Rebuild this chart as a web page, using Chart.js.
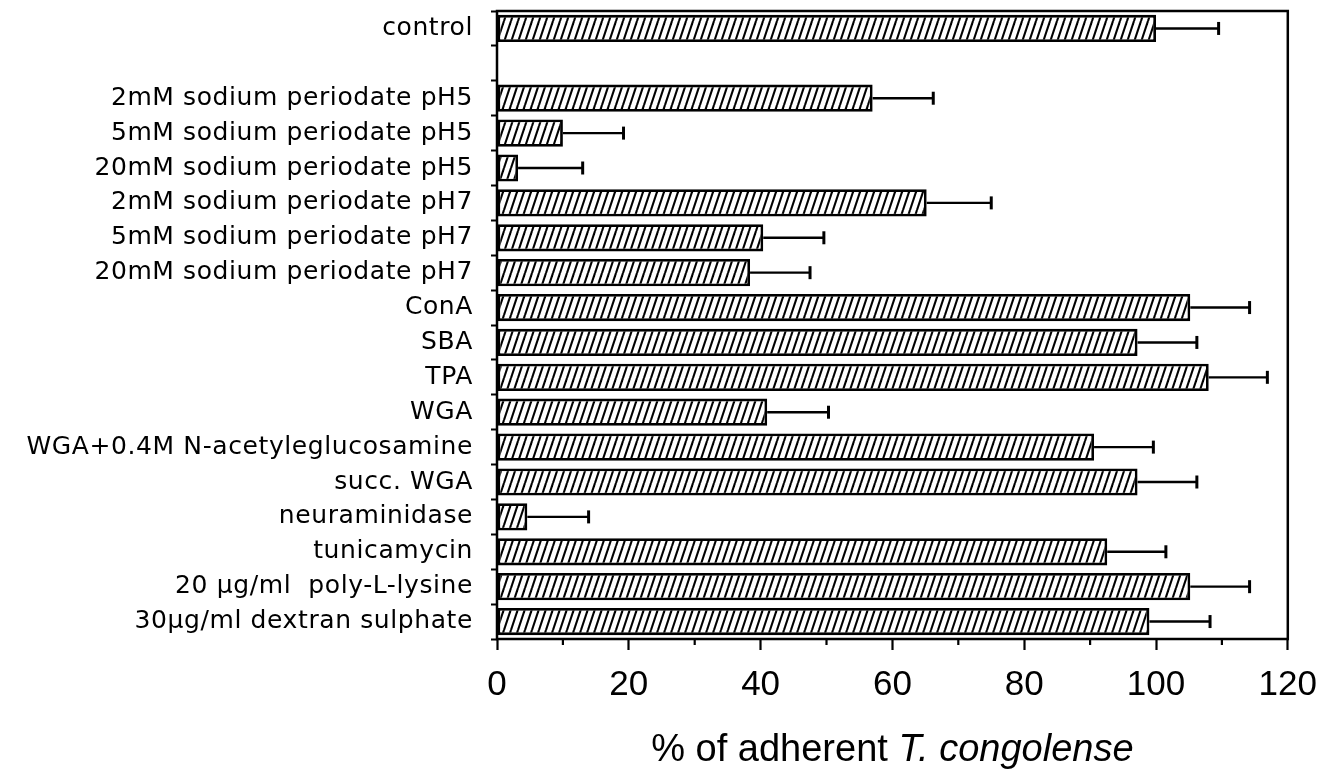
<!DOCTYPE html>
<html>
<head>
<meta charset="utf-8">
<script src="https://cdn.jsdelivr.net/npm/chart.js@4.4.1/dist/chart.umd.min.js"></script>
<style>
  html, body { margin: 0; padding: 0; background: #fff; }
  #chart { display: block; }
</style>
</head>
<body>
<canvas id="chart" width="1331" height="772"></canvas>
<script>
// Treatments, top to bottom (the empty one is the gap under "control")
const treatments = [
    'control',
    '',
    '2mM sodium periodate pH5',
    '5mM sodium periodate pH5',
    '20mM sodium periodate pH5',
    '2mM sodium periodate pH7',
    '5mM sodium periodate pH7',
    '20mM sodium periodate pH7',
    'ConA',
    'SBA',
    'TPA',
    'WGA',
    'WGA+0.4M N-acetyleglucosamine',
    'succ. WGA',
    'neuraminidase',
    'tunicamycin',
    '20 µg/ml  poly-L-lysine',
    '30µg/ml dextran sulphate'
];

// % of adherent T. congolense and the error (one side)
const adherent = [100, null, 57, 10, 3.2, 65.2, 40.4, 38.4, 105.2, 97.2, 108, 41, 90.6, 97.2, 4.6, 92.6, 105.2, 99];
const errors = [9.5, null, 9.2, 9.2, 9.8, 9.8, 9.2, 9.1, 9, 9, 8.9, 9.3, 9, 9, 9.3, 8.9, 9, 9.2];

const xMajorTicks = [0, 20, 40, 60, 80, 100, 120];
const xMinorTicks = [10, 30, 50, 70, 90, 110];

const xTitlePlain = '% of adherent ';
const xTitleItalic = 'T. congolense';

const canvas = document.getElementById('chart');
const ctx = canvas.getContext('2d');

// "////" hatching for the bars
function makeHatch() {
    const tile = document.createElement('canvas');
    tile.width = 7;
    tile.height = 21;
    const g = tile.getContext('2d');
    g.fillStyle = '#fff';
    g.fillRect(0, 0, 7, 21);
    g.strokeStyle = '#000';
    g.lineWidth = 2.1;
    for (const dx of [-7, 0, 7]) {
        g.beginPath();
        g.moveTo(dx, 21);
        g.lineTo(dx + 7, 0);
        g.stroke();
    }
    return ctx.createPattern(tile, 'repeat');
}

const extras = {
    id: 'extras',
    beforeDraw(chart) {
        // a little extra spacing for the treatment names only
        chart.ctx.letterSpacing = '0.6px';
    },
    beforeDatasetsDraw(chart) {
        chart.ctx.letterSpacing = '0px';
    },
    afterDatasetsDraw(chart) {
        const { ctx, chartArea: a, scales: { x } } = chart;
        const meta = chart.getDatasetMeta(0);
        ctx.save();
        ctx.strokeStyle = '#000';

        // error bars
        meta.data.forEach((bar, i) => {
            if (adherent[i] == null) return;
            const x1 = x.getPixelForValue(adherent[i] + errors[i]);
            ctx.lineWidth = 2.4;
            ctx.beginPath();
            ctx.moveTo(bar.x, bar.y);
            ctx.lineTo(x1, bar.y);
            ctx.stroke();
            ctx.lineWidth = 3;
            ctx.beginPath();
            ctx.moveTo(x1, bar.y - 6.5);
            ctx.lineTo(x1, bar.y + 6.5);
            ctx.stroke();
        });

        // short ticks between the labelled ones
        ctx.lineWidth = 2.2;
        xMinorTicks.forEach(v => {
            const px = x.getPixelForValue(v);
            ctx.beginPath();
            ctx.moveTo(px, a.bottom);
            ctx.lineTo(px, a.bottom + 6);
            ctx.stroke();
        });

        // box round the plot
        ctx.lineWidth = 2.5;
        ctx.strokeRect(a.left, a.top, a.right - a.left, a.bottom - a.top);
        ctx.restore();
    },
    afterDraw(chart) {
        const { ctx, chartArea: a } = chart;
        ctx.save();
        ctx.fillStyle = '#000';
        ctx.textBaseline = 'alphabetic';
        ctx.textAlign = 'left';
        ctx.font = '38px "Liberation Sans"';
        const w1 = ctx.measureText(xTitlePlain).width;
        ctx.font = 'italic 38px "Liberation Sans"';
        const w2 = ctx.measureText(xTitleItalic).width;
        const startX = (a.left + a.right) / 2 - (w1 + w2) / 2;
        ctx.font = '38px "Liberation Sans"';
        ctx.fillText(xTitlePlain, startX, 761);
        ctx.font = 'italic 38px "Liberation Sans"';
        ctx.fillText(xTitleItalic, startX + w1, 761);
        ctx.restore();
    }
};

new Chart(ctx, {
    type: 'bar',
    data: {
        labels: treatments,
        datasets: [{
            data: adherent,
            backgroundColor: makeHatch(),
            borderColor: '#000',
            borderWidth: 2.8,
            borderSkipped: false,
            barPercentage: 0.78,
            categoryPercentage: 1.0
        }]
    },
    options: {
        indexAxis: 'y',
        responsive: false,
        devicePixelRatio: 1,
        animation: false,
        layout: {
            padding: { top: 11, right: 43, bottom: 53, left: 0 }
        },
        scales: {
            x: {
                min: 0,
                max: 120,
                border: { display: false },
                grid: {
                    drawOnChartArea: false,
                    tickLength: 11,
                    tickWidth: 2.2,
                    tickColor: c => xMajorTicks.includes(c.tick.value) ? '#000' : 'rgba(0,0,0,0)'
                },
                ticks: {
                    stepSize: 10,
                    autoSkip: false,
                    maxRotation: 0,
                    padding: 14,
                    z: 1, // drawn after the bars, without letter spacing
                    color: '#000',
                    font: { family: 'Liberation Sans', size: 35 },
                    callback: v => xMajorTicks.includes(v) ? String(v) : ''
                },
                afterFit(s) { s.height = 80; }
            },
            y: {
                border: { display: false },
                grid: {
                    drawOnChartArea: false,
                    tickLength: 6,
                    tickWidth: 2,
                    tickColor: '#000'
                },
                ticks: {
                    autoSkip: false,
                    padding: 18,
                    color: '#000',
                    font: { family: 'DejaVu Sans', size: 25 }
                },
                afterFit(s) {
                    s.width = 497;
                    s.paddingTop = 0;
                    s.paddingBottom = 0;
                }
            }
        },
        plugins: {
            legend: { display: false },
            tooltip: { enabled: false }
        }
    },
    plugins: [extras]
});
</script>
</body>
</html>
